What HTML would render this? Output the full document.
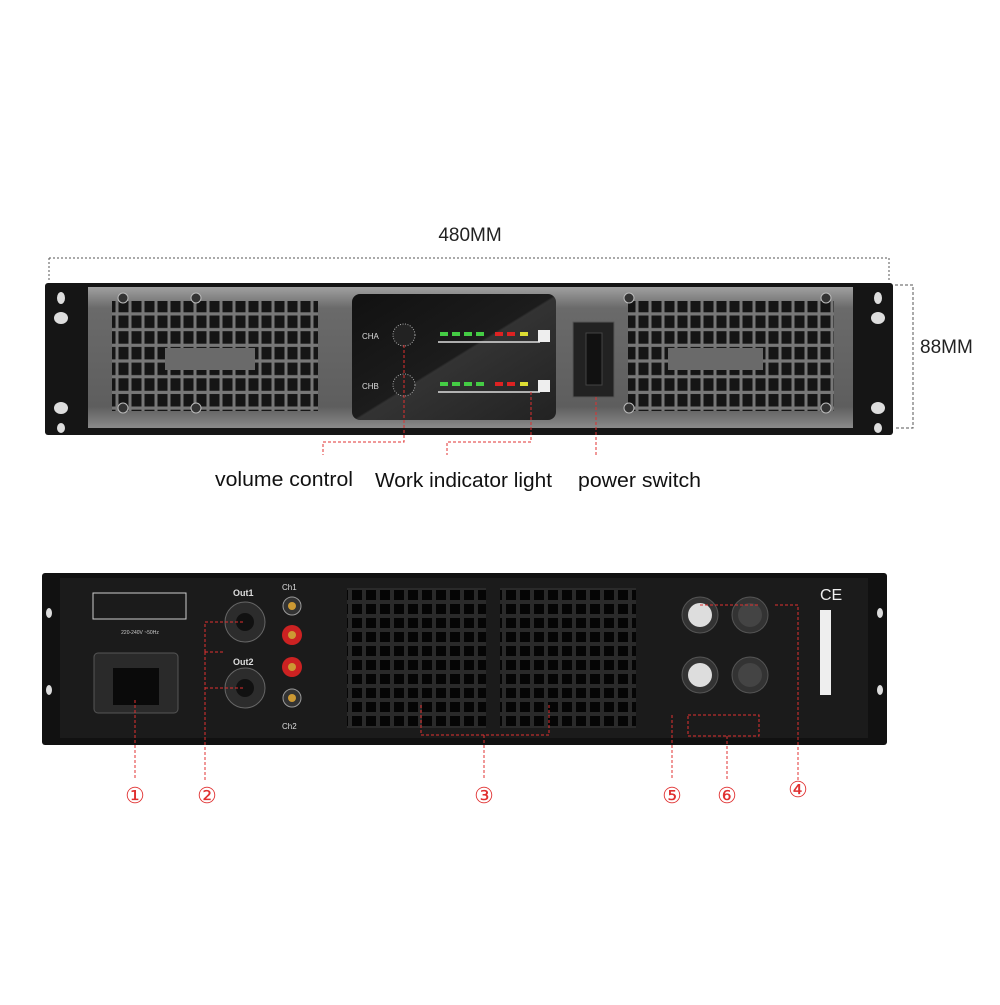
<!DOCTYPE html>
<html><head><style>
body{margin:0;background:#fff;width:1000px;height:1000px;overflow:hidden;font-family:"Liberation Sans",sans-serif}
</style></head><body>
<svg width="1000" height="1000" viewBox="0 0 1000 1000" xmlns="http://www.w3.org/2000/svg">
<defs>
<linearGradient id="fp" x1="0" y1="0" x2="0" y2="1"><stop offset="0" stop-color="#a0a0a0"/><stop offset="0.15" stop-color="#6a6a6a"/><stop offset="0.85" stop-color="#5e5e5e"/><stop offset="1" stop-color="#8a8a8a"/></linearGradient>
<linearGradient id="disp" x1="0" y1="0" x2="1" y2="1"><stop offset="0" stop-color="#111"/><stop offset="0.5" stop-color="#1c1c1c"/><stop offset="0.51" stop-color="#333"/><stop offset="1" stop-color="#222"/></linearGradient>
<pattern id="gr" x="0" y="0" width="13" height="15.7" patternUnits="userSpaceOnUse"><rect width="13" height="15.7" fill="#777"/><rect x="1.5" y="1.5" width="10" height="12.5" fill="#151515"/></pattern>
<pattern id="fan" x="0" y="0" width="14" height="14" patternUnits="userSpaceOnUse"><rect width="14" height="14" fill="#2a2a2a"/><rect x="2" y="2" width="10" height="10" fill="#050505"/></pattern>
</defs>
<text x="470" y="241" font-size="19" text-anchor="middle" fill="#222">480MM</text>
<path d="M49 258H889M49 258V282M889 258V282" stroke="#555" stroke-dasharray="2,2" fill="none"/>
<path d="M895 285H913V428H895" stroke="#555" stroke-dasharray="3,2" fill="none"/>
<text x="920" y="353" font-size="19" fill="#222">88MM</text>
<rect x="45" y="283" width="848" height="152" rx="3" fill="#151515"/>
<rect x="88" y="287" width="765" height="141" fill="url(#fp)"/>
<rect x="112" y="301" width="206" height="110" fill="url(#gr)"/>
<rect x="165" y="348" width="90" height="22" fill="#6a6a6a"/>
<rect x="628" y="301" width="206" height="110" fill="url(#gr)"/>
<rect x="668" y="348" width="95" height="22" fill="#6a6a6a"/>
<g fill="#ddd"><ellipse cx="61" cy="298" rx="4" ry="6"/><ellipse cx="61" cy="318" rx="7" ry="6"/><ellipse cx="61" cy="408" rx="7" ry="6"/><ellipse cx="61" cy="428" rx="4" ry="5"/>
<ellipse cx="878" cy="298" rx="4" ry="6"/><ellipse cx="878" cy="318" rx="7" ry="6"/><ellipse cx="878" cy="408" rx="7" ry="6"/><ellipse cx="878" cy="428" rx="4" ry="5"/></g>
<g fill="#333" stroke="#bbb"><circle cx="123" cy="298" r="5"/><circle cx="196" cy="298" r="5"/><circle cx="123" cy="408" r="5"/><circle cx="196" cy="408" r="5"/><circle cx="629" cy="298" r="5"/><circle cx="826" cy="298" r="5"/><circle cx="629" cy="408" r="5"/><circle cx="826" cy="408" r="5"/></g>
<rect x="352" y="294" width="204" height="126" rx="8" fill="url(#disp)"/>
<circle cx="404" cy="335" r="11" fill="#222" stroke="#aaa" stroke-dasharray="1,1.5"/>
<circle cx="404" cy="385" r="11" fill="#222" stroke="#aaa" stroke-dasharray="1,1.5"/>
<text x="362" y="339" font-size="8" fill="#ddd">CHA</text><text x="362" y="389" font-size="8" fill="#ddd">CHB</text>
<g fill="#4c4"><rect x="440" y="332" width="8" height="4"/><rect x="452" y="332" width="8" height="4"/><rect x="464" y="332" width="8" height="4"/><rect x="476" y="332" width="8" height="4"/><rect x="440" y="382" width="8" height="4"/><rect x="452" y="382" width="8" height="4"/><rect x="464" y="382" width="8" height="4"/><rect x="476" y="382" width="8" height="4"/></g>
<g fill="#d22"><rect x="495" y="332" width="8" height="4"/><rect x="507" y="332" width="8" height="4"/><rect x="495" y="382" width="8" height="4"/><rect x="507" y="382" width="8" height="4"/></g>
<g fill="#dd3"><rect x="520" y="332" width="8" height="4"/><rect x="520" y="382" width="8" height="4"/></g>
<path d="M438 342H540M438 392H540" stroke="#ddd" stroke-width="1.5"/>
<rect x="538" y="330" width="12" height="12" fill="#eee"/><rect x="538" y="380" width="12" height="12" fill="#eee"/>
<rect x="573" y="322" width="41" height="75" fill="#222" stroke="#555"/>
<rect x="586" y="333" width="16" height="52" fill="#111" stroke="#444"/>
<path d="M404 345V442H323V455M531 392V442H447V455M596 397V455" stroke="#e03030" stroke-dasharray="3,2" fill="none"/>
<g font-size="20.5" fill="#111"><text x="215" y="486" textLength="138" lengthAdjust="spacingAndGlyphs">volume control</text><text x="375" y="487" textLength="177" lengthAdjust="spacingAndGlyphs">Work indicator light</text><text x="578" y="487" textLength="123" lengthAdjust="spacingAndGlyphs">power switch</text></g>
<rect x="42" y="573" width="845" height="172" rx="3" fill="#111"/>
<rect x="60" y="578" width="808" height="160" fill="#1b1b1b"/>
<g fill="#ddd"><ellipse cx="49" cy="613" rx="3" ry="5"/><ellipse cx="49" cy="690" rx="3" ry="5"/><ellipse cx="880" cy="613" rx="3" ry="5"/><ellipse cx="880" cy="690" rx="3" ry="5"/></g>
<rect x="93" y="593" width="93" height="26" fill="none" stroke="#ccc"/>
<text x="140" y="634" font-size="5" fill="#ccc" text-anchor="middle">220-240V ~50Hz</text>
<rect x="94" y="653" width="84" height="60" rx="4" fill="#2a2a2a" stroke="#555"/>
<rect x="113" y="668" width="46" height="37" fill="#0a0a0a"/>
<circle cx="245" cy="622" r="20" fill="#2c2c2c" stroke="#666"/><circle cx="245" cy="622" r="9" fill="#111"/>
<circle cx="245" cy="688" r="20" fill="#2c2c2c" stroke="#666"/><circle cx="245" cy="688" r="9" fill="#111"/>
<text x="233" y="596" font-size="9" fill="#ddd" font-weight="bold">Out1</text><text x="233" y="665" font-size="9" fill="#ddd" font-weight="bold">Out2</text>
<circle cx="292" cy="606" r="9" fill="#333" stroke="#999"/><circle cx="292" cy="606" r="4" fill="#c93"/>
<circle cx="292" cy="635" r="10" fill="#c22"/><circle cx="292" cy="635" r="4" fill="#c93"/>
<circle cx="292" cy="667" r="10" fill="#c22"/><circle cx="292" cy="667" r="4" fill="#c93"/>
<circle cx="292" cy="698" r="9" fill="#333" stroke="#999"/><circle cx="292" cy="698" r="4" fill="#c93"/>
<text x="282" y="590" font-size="8" fill="#ddd">Ch1</text><text x="282" y="729" font-size="8" fill="#ddd">Ch2</text>
<rect x="347" y="588" width="139" height="140" fill="url(#fan)"/>
<rect x="500" y="588" width="136" height="140" fill="url(#fan)"/>
<circle cx="700" cy="615" r="18" fill="#333" stroke="#555"/><circle cx="700" cy="615" r="12" fill="#ddd"/>
<circle cx="750" cy="615" r="18" fill="#333" stroke="#555"/><circle cx="750" cy="615" r="12" fill="#444"/>
<circle cx="700" cy="675" r="18" fill="#333" stroke="#555"/><circle cx="700" cy="675" r="12" fill="#ddd"/>
<circle cx="750" cy="675" r="18" fill="#333" stroke="#555"/><circle cx="750" cy="675" r="12" fill="#444"/>
<text x="820" y="600" font-size="16" fill="#eee">CE</text>
<rect x="820" y="610" width="11" height="85" fill="#eee"/>
<g stroke="#e03030" stroke-dasharray="3,2" fill="none">
<path d="M135 700V780M205 652V780M205 652H225M205 688H245M205 652V622H245"/>
<path d="M421 705V735H549V705M484 735V780"/>
<path d="M700 605H760M775 605H798V780"/>
<path d="M688 715H759V736H688ZM672 715V780M727 736V780"/>
</g>
<g font-size="22" fill="#e03030" text-anchor="middle"><text x="135" y="803">①</text><text x="207" y="803">②</text><text x="484" y="803">③</text><text x="798" y="797">④</text><text x="672" y="803">⑤</text><text x="727" y="803">⑥</text></g>
</svg>
</body></html>
